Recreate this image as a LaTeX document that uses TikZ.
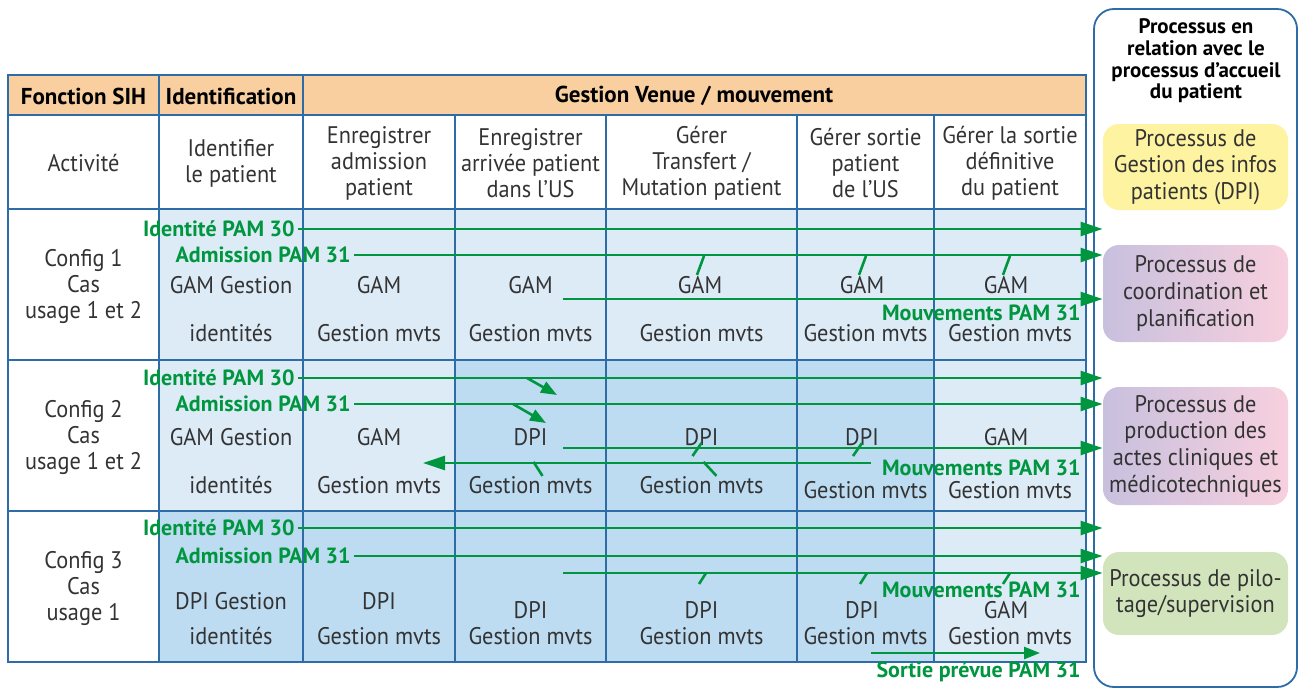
\documentclass[tikz,border=0pt]{standalone}
\usepackage{fontspec}
\setmainfont{PT Sans}[UprightFeatures={FakeStretch=0.93}]
\usetikzlibrary{arrows.meta}
\definecolor{hdr}{RGB}{250,207,160}
\definecolor{paleblue}{RGB}{221,235,247}
\definecolor{midblue}{RGB}{189,220,241}
\definecolor{rule}{RGB}{46,108,168}
\definecolor{pam}{RGB}{0,150,64}
\definecolor{yel}{RGB}{253,243,160}
\definecolor{lilac}{RGB}{200,192,222}
\definecolor{rose}{RGB}{247,208,222}
\definecolor{sage}{RGB}{210,228,188}
\tikzstyle{grid}=[rule,line width=0.75pt]
\tikzstyle{txt}=[inner sep=0pt,align=center,text=black!80,font=\fontsize{12}{13}\selectfont]
\tikzstyle{head}=[inner sep=0pt,align=center,font=\bfseries\fontsize{11.5}{13}\selectfont]
\tikzstyle{pamlabel}=[inner sep=1.5pt,text=pam,font=\bfseries\fontsize{11}{12}\selectfont]
\tikzstyle{flow}=[pam,line width=1.3pt,-{Triangle[length=11pt,width=7pt]}]
\tikzstyle{flowsm}=[pam,line width=1.3pt,-{Triangle[length=8pt,width=6pt]}]
\tikzstyle{tick}=[pam,line width=1.3pt]
\tikzstyle{proc}=[rounded corners=8pt,minimum width=92.5pt,inner sep=0pt,align=center,text=black!80,font=\fontsize{12}{13.3}\selectfont]

\begin{document}
\begin{tikzpicture}[x=0.5pt,y=-0.5pt]
\useasboundingbox (0,0) rectangle (1299,690);

% cell backgrounds
\fill[hdr] (8,75) rectangle (1086,115);
\fill[paleblue] (159,209) rectangle (1086,360);
\fill[paleblue] (159,360) rectangle (455,511);
\fill[midblue] (455,360) rectangle (934,511);
\fill[paleblue] (934,360) rectangle (1086,511);
\fill[midblue] (159,511) rectangle (934,662);
\fill[paleblue] (934,511) rectangle (1086,662);

% table rules
\draw[grid] (8,75) rectangle (1086,662);
\draw[grid] (8,115) -- (1086,115);
\draw[grid] (8,209) -- (1086,209);
\draw[grid] (8,360) -- (1086,360);
\draw[grid] (8,511) -- (1086,511);
\draw[grid] (159,75) -- (159,662);
\draw[grid] (303,75) -- (303,662);
\draw[grid] (455,115) -- (455,662);
\draw[grid] (606,115) -- (606,662);
\draw[grid] (797,115) -- (797,662);
\draw[grid] (934,115) -- (934,662);

% header
\node[head] at (83.5,96) (hf) {Fonction SIH};
\node[head] at (231,96) (hi) {Identification};
\node[head] at (694,96) (hg) {Gestion Venue / mouvement};

% activities
\node[txt] at (83.5,163) (act) {Activité};
\node[txt] at (231,163) (a2) {Identifier\\le patient};
\node[txt] at (379,163) (a3) {Enregistrer\\admission\\patient};
\node[txt] at (530.5,163) (a4) {Enregistrer\\arrivée patient\\dans l’US};
\node[txt] at (701.5,163) (a5) {Gérer\\Transfert /\\Mutation patient};
\node[txt] at (865.5,163) (a6) {Gérer sortie\\patient\\de l’US};
\node[txt] at (1010,163) (a7) {Gérer la sortie\\définitive\\du patient};

% config 1
\node[txt] at (83.5,286) (cfg1) {Config 1\\Cas\\usage 1 et 2};
\node[txt] at (231,285) (t12) {GAM Gestion};
\node[txt] at (231,333) (b12) {identités};
\node[txt] at (379,285) (t13) {GAM};
\node[txt] at (379,333) (b13) {Gestion mvts};
\node[txt] at (530.5,285) (t14) {GAM};
\node[txt] at (530.5,333) (b14) {Gestion mvts};
\node[txt] at (700,285) (t15) {GAM};
\node[txt] at (701.5,333) (b15) {Gestion mvts};
\node[txt] at (862,285) (t16) {GAM};
\node[txt] at (865.5,333) (b16) {Gestion mvts};
\node[txt] at (1006,285) (t17) {GAM};
\node[txt] at (1010,333) (b17) {Gestion mvts};

% config 2
\node[txt] at (83.5,437) (cfg2) {Config 2\\Cas\\usage 1 et 2};
\node[txt] at (231,437) (t22) {GAM Gestion};
\node[txt] at (231,485) (b22) {identités};
\node[txt] at (379,437) (t23) {GAM};
\node[txt] at (379,485) (b23) {Gestion mvts};
\node[txt] at (530.5,437) (t24) {DPI};
\node[txt] at (530.5,485) (b24) {Gestion mvts};
\node[txt] at (701.5,437) (t25) {DPI};
\node[txt] at (701.5,485) (b25) {Gestion mvts};
\node[txt] at (862,437) (t26) {DPI};
\node[txt] at (865.5,490) (b26) {Gestion mvts};
\node[txt] at (1006,437) (t27) {GAM};
\node[txt] at (1010,490) (b27) {Gestion mvts};

% config 3
\node[txt] at (83.5,588) (cfg3) {Config 3\\Cas\\usage 1};
\node[txt] at (231,601) (t32) {DPI Gestion};
\node[txt] at (231,636) (b32) {identités};
\node[txt] at (379,601) (t33) {DPI};
\node[txt] at (379,636) (b33) {Gestion mvts};
\node[txt] at (530.5,610) (t34) {DPI};
\node[txt] at (530.5,636) (b34) {Gestion mvts};
\node[txt] at (701.5,610) (t35) {DPI};
\node[txt] at (701.5,636) (b35) {Gestion mvts};
\node[txt] at (862,610) (t36) {DPI};
\node[txt] at (865.5,636) (b36) {Gestion mvts};
\node[txt] at (1006,610) (t37) {GAM};
\node[txt] at (1010,636) (b37) {Gestion mvts};

% related processes
\draw[rule,line width=0.9pt,rounded corners=10pt] (1094,9) rectangle (1297,687);
\node[align=center,inner sep=0pt,font=\bfseries\fontsize{10.5}{10.8}\selectfont] at (1196,61) (ttl) {Processus en\\relation avec le\\processus d’accueil\\du patient};
\node[proc,fill=yel,minimum height=43pt] at (1195.5,167) (p1) {Processus de\\Gestion des infos\\patients (DPI)};
\node[proc,left color=lilac,right color=rose,minimum height=48.5pt] at (1195.5,293.5) (p2) {Processus de\\coordination et\\planification};
\node[proc,left color=lilac,right color=rose,minimum height=59pt] at (1195.5,446) (p3) {Processus de\\production des\\actes cliniques et\\médicotechniques};
\node[proc,fill=sage,minimum height=41.5pt] at (1195.5,593.5) (p4) {Processus de pilo-\\tage/supervision};

% flows config 1
\node[pamlabel,anchor=east] at (298,229) (id1) {Identité PAM 30};
\node[pamlabel,anchor=east] at (354,255) (ad1) {Admission PAM 31};
\coordinate (m1) at (563,299);
\draw[flow] (id1.east) -- (id1.east -| p1.west);
\draw[flow] (ad1.east) -- (ad1.east -| p2.west);
\draw[flow] (m1) -- (m1 -| p2.west);
\node[pamlabel,anchor=east] at (1084,313) (mv1) {Mouvements PAM 31};
\draw[tick] ([shift={(-1.5pt,0.5pt)}]t15.north) -- ++(7,-19);
\draw[tick] ([shift={(-1.5pt,0.5pt)}]t16.north) -- ++(7,-19);
\draw[tick] ([shift={(-1.5pt,0.5pt)}]t17.north) -- ++(7,-19);

% flows config 2
\node[pamlabel,anchor=east] at (298,378) (id2) {Identité PAM 30};
\node[pamlabel,anchor=east] at (354,404) (ad2) {Admission PAM 31};
\coordinate (s1) at (527,378);
\coordinate (s1e) at (557,395);
\coordinate (s2) at (513,404);
\coordinate (s2e) at (546,423);
\coordinate (m2) at (563,448);
\coordinate (r2) at (871,463);
\coordinate (r2e) at (423,463);
\draw[flow] (id2.east) -- (id2.east -| p3.west);
\draw[flow] (ad2.east) -- (ad2.east -| p3.west);
\draw[flowsm] (s1) -- (s1e);
\draw[flowsm] (s2) -- (s2e);
\draw[flow] (m2) -- (m2 -| p3.west);
\draw[flow] (r2) -- (r2e);
\node[pamlabel,anchor=east] at (1084,468) (mv2) {Mouvements PAM 31};
\draw[tick] ([shift={(0pt,1.5pt)}]t25.south) -- ++(-9,13);
\draw[tick] ([shift={(0pt,1.5pt)}]t26.south) -- ++(-9,13);
\draw[tick] ([xshift=6pt]b24.north) -- ++(-9,-14);
\draw[tick] ([xshift=7.5pt]b25.north) -- ++(-13,-14);

% flows config 3
\node[pamlabel,anchor=east] at (298,528) (id3) {Identité PAM 30};
\node[pamlabel,anchor=east] at (354,556) (ad3) {Admission PAM 31};
\coordinate (m3) at (563,573);
\coordinate (so) at (871,653);
\coordinate (soe) at (1040,653);
\draw[flow] (id3.east) -- (id3.east -| p4.west);
\draw[flow] (ad3.east) -- (ad3.east -| p4.west);
\draw[flow] (m3) -- (m3 -| p4.west);
\draw[tick] ([xshift=71.5pt]m3) -- ++(-7,11);
\draw[tick] ([xshift=152pt]m3) -- ++(-7,11);
\draw[tick] ([xshift=223.5pt]m3) -- ++(-7,11);
\node[pamlabel,anchor=east] at (1084,590) (mv3) {Mouvements PAM 31};
\draw[flowsm] (so) -- (soe);
\node[pamlabel,anchor=east] at (1084,672) (sp) {Sortie prévue PAM 31};
\end{tikzpicture}
\end{document}
